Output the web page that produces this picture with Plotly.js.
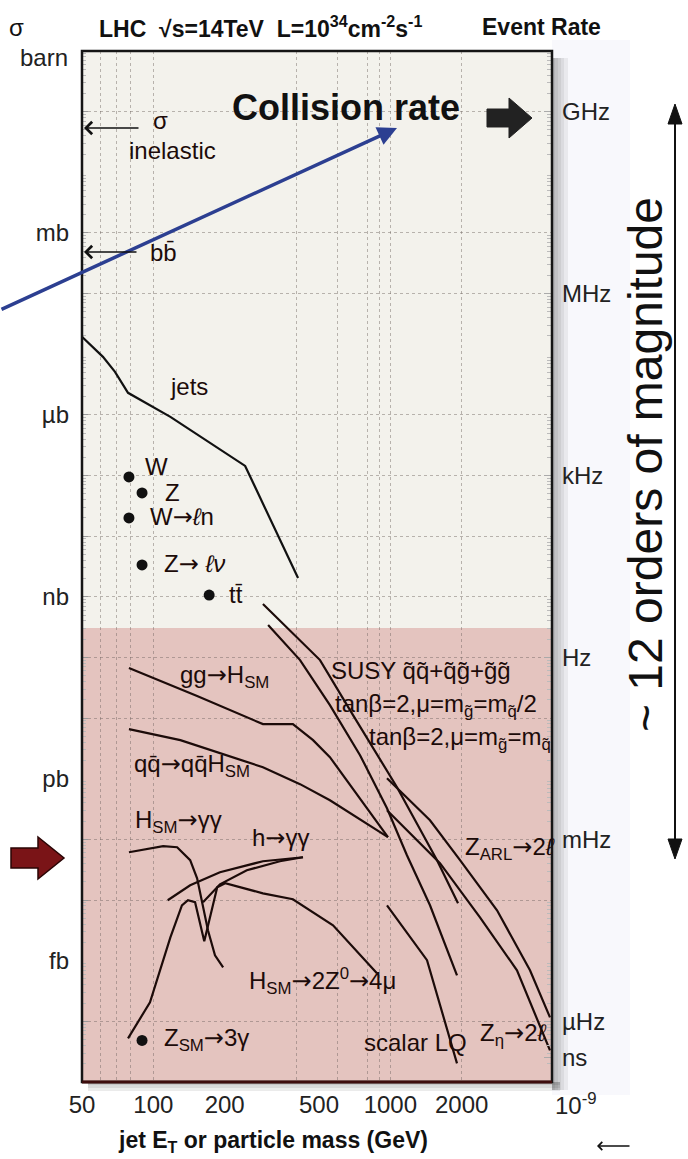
<!DOCTYPE html>
<html><head><meta charset="utf-8">
<script src="https://cdn.plot.ly/plotly-3.0.1.min.js"></script>
<style>html,body{margin:0;padding:0;background:#fff}#c{width:688px;height:1159px}</style>
</head><body><div id="c"></div>
<script>
// ---- data: energy (GeV) and cross-section (barn) ----
const jetsE = [50, 61.3, 68.9, 78.2, 118, 244, 408];
const jetsS = [1.94e-5, 9.06e-6, 5.13e-6, 2.31e-6, 9.27e-7, 1.44e-7, 2.04e-9];

const dotNames = ['W', 'Z', 'W→ℓn', 'Z→ℓν', 'tt̄', 'Z_SM→3γ'];
const dotE = [78.9, 89.6, 78.9, 89.6, 172, 89.6];
const dotS = [9.48e-8, 5.16e-8, 2.00e-8, 3.35e-9, 1.07e-9, 4.85e-17];

const ggHE = [78.9, 153, 290, 388, 472, 556, 977];
const ggHS = [6.68e-11, 2.31e-11, 7.96e-12, 7.96e-12, 4.33e-12, 2.27e-12, 1.09e-13];

const qqHE = [78.9, 130, 290, 416, 556, 977];
const qqHS = [6.58e-12, 4.33e-12, 1.55e-12, 8.15e-13, 4.43e-13, 1.09e-13];

const HggE = [78.9, 110, 126, 143, 153, 162, 170, 182, 197];
const HggS = [6.15e-14, 7.72e-14, 7.43e-14, 4.54e-14, 2.29e-14, 8.20e-15, 3.17e-15, 1.23e-15, 7.78e-16];

const hggAE = [115, 143, 191, 290, 428];
const hggAS = [9.93e-15, 1.75e-14, 2.88e-14, 4.37e-14, 5.08e-14];
const hggBE = [162, 191, 248, 342, 428];
const hggBS = [9.20e-15, 1.82e-14, 3.10e-14, 4.37e-14, 5.08e-14];

const H4muE = [78.2, 96.8, 118, 132, 140, 150, 164, 186, 201, 290, 388, 505, 573, 878];
const H4muS = [5.24e-17, 2.06e-16, 2.43e-15, 8.20e-15, 9.93e-15, 9.20e-15, 2.09e-15, 1.63e-14, 1.89e-14, 1.29e-14, 1.03e-14, 5.20e-15, 3.84e-15, 6.20e-16];

const susyAE = [290, 505, 696, 1067, 1574, 1930];
const susyAS = [7.6e-10, 9.06e-11, 1.12e-11, 7.26e-13, 4.54e-14, 8.85e-15];
const susyBE = [305, 416, 556, 745, 968, 1175, 1470, 1911];
const susyBS = [3.43e-10, 9.06e-11, 1.64e-11, 2.45e-12, 3.27e-13, 5.48e-14, 8.20e-15, 5.74e-16];

const zarlE = [968, 1470, 1968, 2819, 3884, 4717];
const zarlS = [1.02e-12, 2.07e-13, 4.54e-14, 6.79e-15, 6.95e-16, 1.16e-16];
const zetaE = [968, 1620, 2389, 3422, 4717];
const zetaS = [3.03e-13, 4.05e-14, 5.20e-15, 6.95e-16, 3.32e-17];
const lqE = [968, 1428, 1911];
const lqS = [8.20e-15, 1.02e-15, 2.03e-17];

// axes
const xTicks = [50, 100, 200, 500, 1000, 2000];
const xGrid = [60, 70, 80, 100, 400, 600, 800, 900, 1000, 2000];
const sigmaTicks = [1e-3, 1e-6, 1e-9, 1e-12, 1e-15];
const sigmaLabels = ['mb', 'µb', 'nb', 'pb', 'fb'];
const rateTicks = [1e-1, 1e-4, 1e-7, 1e-10, 1e-13, 1e-16, 2.5e-17];
const rateLabels = ['GHz', 'MHz', 'kHz', 'Hz', 'mHz', 'µHz', 'ns'];
const yGrid = [1e-1, 1e-3, 1e-4, 1e-6, 1e-7, 1e-8, 1e-9, 1e-10, 1e-11, 1e-13, 1e-14, 1e-16];
const minorMult = [2, 3, 4, 5, 6, 7, 8, 9];
const xRange = [Math.log10(50), Math.log10(4810)];
const yRange = [-17, 0];
const pinkTopPx = 628;

// ---- layout helpers ----
const L = 82, R = 552, T = 51, B = 1082;
const xp = p => (p - L) / (R - L);
const yp = p => (B - p) / (B - T);
const FN = "'Liberation Sans',Arial,sans-serif";
const INK = '#1c0b09';
const FS = 24;
const AR = '<span style="font-family:DejaVu Sans">→</span>';

const minorTicks = [];
for (let e = -17; e < 0; e++) minorMult.forEach(m => minorTicks.push(m * 10 ** e));

function lab(text, x, y, o = {}) {
  return Object.assign({
    xref: 'paper', yref: 'paper', x: xp(x), y: yp(y), text: text, showarrow: false,
    xanchor: 'left', yanchor: 'middle',
    font: {family: FN, size: FS, color: INK}
  }, o);
}
function pth(pts) {
  return 'M' + pts.map(p => xp(p[0]).toFixed(5) + ',' + yp(p[1]).toFixed(5)).join('L') + 'Z';
}

const line = (x, y, c) => ({x: x, y: y, type: 'scatter', mode: 'lines', line: {color: c || INK, width: 2.2}, hoverinfo: 'skip'});
const traces = [
  line(jetsE, jetsS, '#111'),
  line(ggHE, ggHS), line(qqHE, qqHS), line(HggE, HggS),
  line(hggAE, hggAS), line(hggBE, hggBS), line(H4muE, H4muS),
  line(susyAE, susyAS), line(susyBE, susyBS),
  line(zarlE, zarlS), line(zetaE, zetaS), line(lqE, lqS),
  {x: dotE, y: dotS, type: 'scatter', mode: 'markers', marker: {color: '#111', size: 11}, text: dotNames, hoverinfo: 'text'},
  {x: [null], y: [null], xaxis: 'x2', yaxis: 'y3', type: 'scatter', mode: 'lines', showlegend: false},
  {x: [null], y: [null], yaxis: 'y2', type: 'scatter', mode: 'lines', showlegend: false}
];

const shapes = [
  {type: 'rect', xref: 'paper', yref: 'paper', x0: 1, x1: xp(630), y0: yp(1095), y1: yp(40), fillcolor: '#f8f8fc', line: {width: 0}, layer: 'below'},
  {type: 'rect', xref: 'paper', yref: 'paper', x0: 0, x1: 1, y0: 0, y1: yp(pinkTopPx), fillcolor: '#e4c4bf', line: {width: 0}, layer: 'below'}
];
[3, 6, 9, 12, 16].forEach(w => shapes.push({type: 'rect', xref: 'paper', yref: 'paper', x0: 1, x1: xp(552 + w), y0: yp(1090), y1: yp(58), fillcolor: 'rgba(0,0,0,0.06)', line: {width: 0}, layer: 'below'}));
[3, 6, 9].forEach(h => shapes.push({type: 'rect', xref: 'paper', yref: 'paper', x0: xp(88), x1: xp(560), y0: yp(1082 + h), y1: 0, fillcolor: 'rgba(0,0,0,0.08)', line: {width: 0}, layer: 'below'}));
shapes.push(
  {type: 'rect', xref: 'paper', yref: 'paper', x0: 0, x1: 1, y0: 0, y1: 1, line: {color: '#151515', width: 2.5}, fillcolor: 'rgba(0,0,0,0)', layer: 'above'},
  {type: 'line', xref: 'paper', yref: 'paper', x0: 0, x1: 1, y0: 0, y1: 0, line: {color: '#3d0c0c', width: 3}, layer: 'above'},
  {type: 'path', xref: 'paper', yref: 'paper', path: pth([[487, 109], [509, 109], [509, 98], [532, 118], [509, 138], [509, 127], [487, 127]]), fillcolor: '#222', line: {color: '#222', width: 1}},
  {type: 'path', xref: 'paper', yref: 'paper', path: pth([[11, 848], [38, 848], [38, 837], [64, 858], [38, 879], [38, 868], [11, 868]]), fillcolor: '#7a1417', line: {color: '#2a0505', width: 1.5}},
  {type: 'line', xref: 'paper', yref: 'paper', x0: xp(675), x1: xp(675), y0: yp(120), y1: yp(845), line: {color: '#111', width: 2}},
  {type: 'path', xref: 'paper', yref: 'paper', path: pth([[668, 124], [675, 104], [682, 124]]), fillcolor: '#111', line: {color: '#111', width: 1}},
  {type: 'path', xref: 'paper', yref: 'paper', path: pth([[668, 839], [675, 859], [682, 839]]), fillcolor: '#111', line: {color: '#111', width: 1}}
);

const annotations = [
  lab('σ', 16, 27, {xanchor: 'center', font: {family: FN, size: FS, color: '#111'}}),
  lab('<b>LHC  √s=14TeV  L=10<sup>34</sup>cm<sup>-2</sup>s<sup>-1</sup></b>', 97, 27, {font: {family: FN, size: 23, color: '#111'}}),
  lab('<b>Event Rate</b>', 480, 27, {font: {family: FN, size: 23, color: '#111'}}),
  lab('barn', 70, 58, {xanchor: 'right', font: {family: FN, size: FS, color: '#222'}}),
  lab('<b>Collision rate</b>', 346, 108, {xanchor: 'center', font: {family: FN, size: 36, color: '#111'}}),
  lab('σ', 160, 121, {xanchor: 'center'}),
  lab('inelastic', 172, 150, {xanchor: 'center'}),
  lab('bb̄', 163, 252, {xanchor: 'center'}),
  lab('jets', 189, 386, {xanchor: 'center'}),
  lab('W', 156, 466, {xanchor: 'center'}),
  lab('Z', 172, 492, {xanchor: 'center'}),
  lab('W' + AR + '<i>ℓ</i>n', 148, 517),
  lab('Z' + AR + ' <i>ℓν</i>', 162, 564),
  lab('tt̄', 227, 594),
  lab('gg' + AR + 'H<sub>SM</sub>', 178, 676),
  lab('qq̄' + AR + 'qq̄H<sub>SM</sub>', 132, 765),
  lab('H<sub>SM</sub>' + AR + 'γγ', 133, 821),
  lab('h' + AR + 'γγ', 250, 838),
  lab('SUSY q̃q̃+q̃g̃+g̃g̃', 329, 670),
  lab('tanβ=2,μ=m<sub>g̃</sub>=m<sub>q̃</sub>/2', 333, 705),
  lab('tanβ=2,μ=m<sub>g̃</sub>=m<sub>q̃</sub>', 367, 738),
  lab('Z<sub>ARL</sub>' + AR + '2<i>ℓ</i>', 463, 848),
  lab('H<sub>SM</sub>' + AR + '2Z<sup>0</sup>' + AR + '4μ', 247, 981),
  lab('Z<sub>SM</sub>' + AR + '3γ', 162, 1039),
  lab('scalar LQ', 362, 1042),
  lab('Z<sub>η</sub>' + AR + '2<i>ℓ</i>', 478, 1034),
  lab('10<sup>-9</sup>', 553, 1104, {font: {family: FN, size: FS, color: '#222'}}),
  lab('<b>jet E<sub>T</sub> or particle mass (GeV)</b>', 273, 1141, {xanchor: 'center', font: {family: FN, size: 23, color: '#111'}}),
  lab('~ 12 orders of magnitude', 645, 465, {xanchor: 'center', textangle: -90, font: {family: FN, size: 48, color: '#111'}}),
  // arrows
  {xref: 'paper', yref: 'paper', x: xp(397), y: yp(128), ax: -397, ay: 182, text: '', showarrow: true, arrowhead: 2, arrowsize: 1.1, arrowwidth: 3.5, arrowcolor: '#2c3f91'},
  {xref: 'paper', yref: 'paper', x: xp(84), y: yp(128), ax: 56, ay: 0, text: '', showarrow: true, arrowhead: 4, arrowsize: 1.6, arrowwidth: 1.5, arrowcolor: '#111'},
  {xref: 'paper', yref: 'paper', x: xp(84), y: yp(252), ax: 54, ay: 0, text: '', showarrow: true, arrowhead: 4, arrowsize: 1.6, arrowwidth: 1.5, arrowcolor: '#111'},
  {xref: 'paper', yref: 'paper', x: xp(597), y: yp(1146), ax: 34, ay: 0, text: '', showarrow: true, arrowhead: 4, arrowsize: 1.2, arrowwidth: 1.3, arrowcolor: '#111'}
];

const layout = {
  width: 688, height: 1159,
  margin: {l: L, r: 688 - R, t: T, b: 1159 - B},
  paper_bgcolor: '#ffffff', plot_bgcolor: '#f3f2ec',
  showlegend: false,
  xaxis: {type: 'log', range: xRange, tickvals: xTicks, ticktext: xTicks.map(String), ticks: '', showgrid: false, zeroline: false, showline: false,
          tickfont: {family: FN, size: FS, color: '#222'}, ticklabelstandoff: 6},
  xaxis2: {type: 'log', range: xRange, overlaying: 'x', tickvals: xGrid, showticklabels: false, ticks: '', showgrid: true, griddash: 'dot', gridcolor: 'rgba(110,100,95,0.45)', gridwidth: 1, zeroline: false},
  yaxis: {type: 'log', range: yRange, tickvals: sigmaTicks, ticktext: sigmaLabels, ticks: '', showgrid: false, zeroline: false, showline: false,
          tickfont: {family: FN, size: FS, color: '#222'}, ticklabelstandoff: 12},
  yaxis2: {type: 'log', range: yRange, overlaying: 'y', side: 'right', tickvals: rateTicks, ticktext: rateLabels, ticks: 'inside', ticklen: 8, tickcolor: '#aaa', showgrid: false, zeroline: false,
          tickfont: {family: FN, size: FS, color: '#222'}, ticklabelstandoff: 9,
          minor: {tickmode: 'array', tickvals: minorTicks, ticks: 'inside', ticklen: 5, tickcolor: '#bbb', showgrid: false}},
  yaxis3: {type: 'log', range: yRange, overlaying: 'y', tickvals: yGrid, showticklabels: false, ticks: 'inside', ticklen: 6, tickcolor: '#999', showgrid: true, griddash: 'dot', gridcolor: 'rgba(110,100,95,0.45)', gridwidth: 1, zeroline: false,
          minor: {tickmode: 'array', tickvals: minorTicks, ticks: 'inside', ticklen: 4, tickcolor: '#bbb', showgrid: false}},
  shapes: shapes,
  annotations: annotations
};

Plotly.newPlot('c', traces, layout, {displayModeBar: false, staticPlot: true});
</script>
</body></html>
